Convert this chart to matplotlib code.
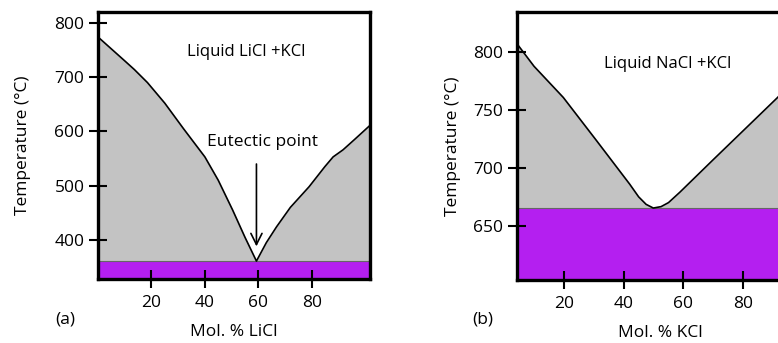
import numpy as np
import matplotlib
matplotlib.use("Agg")
import matplotlib.pyplot as plt

plt.rcParams['font.family'] = ['Open Sans', 'DejaVu Sans']

# (a) LiCl-KCl liquidus
licl_x = [0, 5, 10, 13.6, 18.5, 25, 32, 40, 45, 50.4, 55, 59.3, 63, 66.8, 72, 79, 84.9, 88, 91.7, 96, 102]
licl_t = [774, 752, 730, 714, 690, 652, 605, 553, 510, 455, 405, 361, 395, 424, 460, 498, 535, 553, 566, 585, 612]
licl_eutectic = 361

# (b) NaCl-KCl liquidus
kcl_x = [4.3, 10, 19.8, 30.9, 42, 45, 47.5, 49.9, 52.5, 55, 58.8, 69.9, 81.1, 91.5, 100]
kcl_t = [807.5, 788, 761, 723.7, 686, 675, 668.5, 665.3, 666.5, 670, 679, 707, 735, 761, 785]
kcl_solidus = 665

gray = '#c3c3c3'
purple = '#b41ff0'

fig = plt.figure(figsize=(7.78, 3.43), dpi=100)
ax1 = fig.add_axes([98/778, 64/343, 272/778, 267/343])
ax2 = fig.add_axes([517/778, 63/343, 286/778, 268/343])

def style(ax):
    for s in ax.spines.values():
        s.set_linewidth(2.4)
    ax.tick_params(direction='inout', length=13.5, width=1.5, labelsize=12.5, pad=3)
    ax.tick_params(axis='x', pad=5)

# panel (a)
ax1.set_xlim(0, 101.8)
ax1.set_ylim(328, 820)
ax1.axhspan(328, licl_eutectic, color=purple, lw=0)
ax1.axhline(licl_eutectic, color='#666666', lw=0.8)
ax1.fill_between(licl_x, licl_eutectic, licl_t, color=gray, lw=0)
ax1.plot(licl_x, licl_t, color='black', lw=1.2)
ax1.set_xticks([20, 40, 60, 80])
ax1.set_yticks([400, 500, 600, 700, 800])
ax1.text(55.5, 746, 'Liquid LiCl +KCl', ha='center', va='center', fontsize=12)
ax1.text(61.6, 581, 'Eutectic point', ha='center', va='center', fontsize=12.5)
ax1.annotate('', xy=(59.3, 383), xytext=(59.3, 545),
             arrowprops=dict(arrowstyle='->', color='black', lw=1.2, mutation_scale=20))
ax1.set_xlabel('Mol. % LiCl', fontsize=12.5, labelpad=9)
ax1.set_ylabel('Temperature (°C)', fontsize=12.5, labelpad=17)
style(ax1)
fig.text(65/778, 1 - 320/343, '(a)', ha='center', va='center', fontsize=12.5)

# panel (b)
ax2.set_xlim(4.3, 100)
ax2.set_ylim(603, 835)
ax2.axhspan(603, kcl_solidus, color=purple, lw=0)
ax2.axhline(kcl_solidus, color='#666666', lw=0.8)
ax2.fill_between(kcl_x, kcl_solidus, kcl_t, color=gray, lw=0)
ax2.plot(kcl_x, kcl_t, color='black', lw=1.2)
ax2.set_xticks([20, 40, 60, 80])
ax2.set_yticks([650, 700, 750, 800])
ax2.text(54.7, 790, 'Liquid NaCl +KCl', ha='center', va='center', fontsize=12)
ax2.set_xlabel('Mol. % KCl', fontsize=12.5, labelpad=9)
ax2.set_ylabel('Temperature (°C)', fontsize=12.5, labelpad=9)
style(ax2)
fig.text(483/778, 1 - 320/343, '(b)', ha='center', va='center', fontsize=12.5)

fig.savefig('out.png', dpi=100)
